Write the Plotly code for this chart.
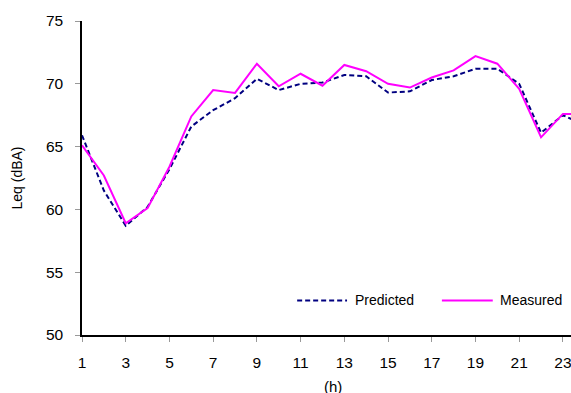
import plotly.graph_objects as go

# Hourly equivalent sound level, predicted vs measured
hours = list(range(1, 25))
predicted = [65.9, 61.5, 58.7, 60.2, 63.2, 66.6, 67.9, 68.85, 70.4, 69.5, 70.0, 70.1,
             70.7, 70.6, 69.3, 69.4, 70.3, 70.6, 71.2, 71.2, 70.0, 66.1, 67.5, 66.7]
measured = [65.1, 62.7, 58.9, 60.1, 63.4, 67.4, 69.5, 69.27, 71.6, 69.8, 70.8, 69.85,
            71.5, 71.0, 70.0, 69.7, 70.5, 71.07, 72.2, 71.6, 69.6, 65.74, 67.6, 67.6]
x_ticks = [1, 3, 5, 7, 9, 11, 13, 15, 17, 19, 21, 23]
y_ticks = [50, 55, 60, 65, 70, 75]
series_names = ["Predicted", "Measured"]

NAVY = "#000080"
MAGENTA = "#FF00FF"
FONT = "Liberation Sans, Arial, sans-serif"

fig = go.Figure()
fig.add_trace(go.Scatter(x=hours, y=predicted, mode="lines", name=series_names[0],
                         line=dict(color=NAVY, width=2, dash="5px,3px"),
                         showlegend=False))
fig.add_trace(go.Scatter(x=hours, y=measured, mode="lines", name=series_names[1],
                         line=dict(color=MAGENTA, width=2), showlegend=False))

# Legend drawn as line samples with labels inside the plot area
legend_y = 0.11
legend_items = [
    (0.440, 0.542, 0.554, series_names[0], NAVY, "5px,3px"),
    (0.736, 0.840, 0.850, series_names[1], MAGENTA, "solid"),
]
for x0, x1, xt, label, color, dash in legend_items:
    fig.add_shape(type="line", xref="paper", yref="paper", x0=x0, x1=x1,
                  y0=legend_y, y1=legend_y, line=dict(color=color, width=2, dash=dash))
    fig.add_annotation(xref="paper", yref="paper", x=xt, y=legend_y, text=label,
                       showarrow=False, xanchor="left", yanchor="middle",
                       font=dict(family=FONT, size=14, color="#000000"))

fig.add_annotation(xref="paper", yref="paper", x=0.513, y=-0.132, text="(h)",
                   showarrow=False, xanchor="center", yanchor="top",
                   font=dict(family=FONT, size=15, color="#000000"))

fig.update_layout(
    width=571, height=393,
    margin=dict(l=82, r=0, t=21, b=58),
    paper_bgcolor="white", plot_bgcolor="white",
    font=dict(family=FONT, size=15, color="#000000"),
    xaxis=dict(range=[1, 23.37], tickmode="array", tickvals=x_ticks,
               showgrid=False, zeroline=False, showline=True, linecolor="black",
               linewidth=1.5, ticks="outside", ticklen=5, tickcolor="#999999",
               tickfont=dict(size=15.5), ticklabelstandoff=8,
               ticklabeloverflow="allow"),
    yaxis=dict(range=[50, 75], tickmode="array", tickvals=y_ticks,
               showgrid=False, zeroline=False, showline=True, linecolor="black",
               linewidth=1.5, ticks="outside", ticklen=5, tickcolor="#999999",
               tickfont=dict(size=15.5), ticklabelstandoff=9,
               title=dict(text="Leq (dBA)", font=dict(size=14), standoff=20)),
)

fig.write_html("out.html")
